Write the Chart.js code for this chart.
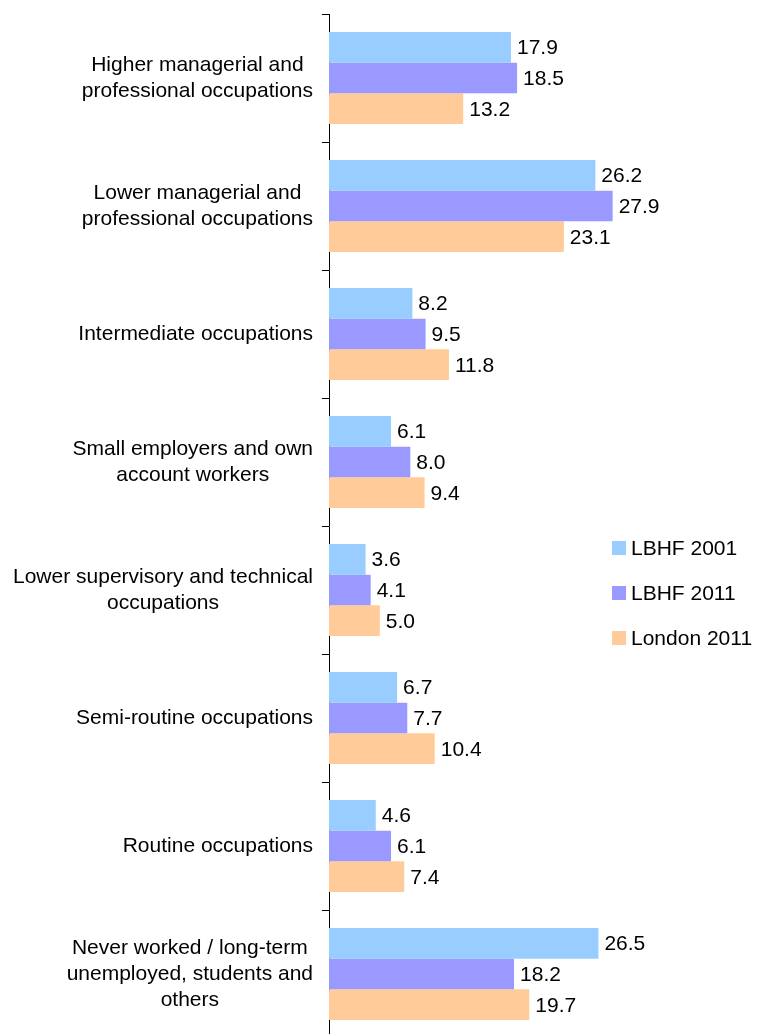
<!DOCTYPE html>
<html>
<head>
<meta charset="utf-8">
<script src="https://cdn.jsdelivr.net/npm/chart.js@4.4.1/dist/chart.umd.min.js"></script>
<style>
  html, body { margin: 0; padding: 0; background: #fff; overflow: hidden; }
  #wrap { position: relative; width: 757px; height: 1034px; overflow: hidden; }
  #legend { position: absolute; left: 612px; top: 534px; font: 21px "Liberation Sans", Arial, sans-serif; color: #000; }
  #legend div { height: 28px; margin-bottom: 17px; display: flex; align-items: center; white-space: nowrap; }
  #legend span.box { display: inline-block; width: 14px; height: 14px; margin-right: 5px; }
</style>
</head>
<body>
<div id="wrap">
  <canvas id="chart" width="757" height="1038"></canvas>
  <div id="legend"></div>
</div>
<script>
const categories = [
  ['Higher managerial and', 'professional occupations'],
  ['Lower managerial and', 'professional occupations'],
  ['Intermediate occupations'],
  ['Small employers and own', 'account workers'],
  ['Lower supervisory and technical', 'occupations'],
  ['Semi-routine occupations'],
  ['Routine occupations'],
  ['Never worked / long-term', 'unemployed, students and', 'others']
];
const seriesNames = ['LBHF 2001', 'LBHF 2011', 'London 2011'];
const lbhf2001 = [17.9, 26.2, 8.2, 6.1, 3.6, 6.7, 4.6, 26.5];
const lbhf2011 = [18.5, 27.9, 9.5, 8.0, 4.1, 7.7, 6.1, 18.2];
const london2011 = [13.2, 23.1, 11.8, 9.4, 5.0, 10.4, 7.4, 19.7];
const colors = ['#99CCFF', '#9999FF', '#FFCC99'];

const FONT = '"Liberation Sans", Arial, sans-serif';

// category labels: lines centred on each other, block right-aligned to the axis
const categoryLabels = {
  id: 'categoryLabels',
  afterDraw(chart) {
    const ctx = chart.ctx;
    const y = chart.scales.y;
    ctx.save();
    ctx.font = '21px ' + FONT;
    ctx.fillStyle = '#000';
    ctx.textAlign = 'center';
    ctx.textBaseline = 'middle';
    const lh = 26;
    categories.forEach((lines, i) => {
      const w = Math.max(...lines.map(l => ctx.measureText(l).width));
      const cx = y.right - 16 - w / 2;
      const cy = y.getPixelForTick(i);
      lines.forEach((l, k) => {
        ctx.fillText(l, cx, cy + (k - (lines.length - 1) / 2) * lh);
      });
    });
    ctx.restore();
  }
};

// value labels at bar ends
const valueLabels = {
  id: 'valueLabels',
  afterDatasetsDraw(chart) {
    const ctx = chart.ctx;
    ctx.save();
    ctx.font = '21px ' + FONT;
    ctx.fillStyle = '#000';
    ctx.textAlign = 'left';
    ctx.textBaseline = 'middle';
    chart.data.datasets.forEach((ds, di) => {
      chart.getDatasetMeta(di).data.forEach((bar, i) => {
        ctx.fillText(ds.data[i].toFixed(1), bar.x + 6, bar.y + 1);
      });
    });
    ctx.restore();
  }
};

new Chart(document.getElementById('chart'), {
  type: 'bar',
  data: {
    labels: categories.map(c => c.join(' ')),
    datasets: [
      { label: seriesNames[0], data: lbhf2001, backgroundColor: colors[0] },
      { label: seriesNames[1], data: lbhf2011, backgroundColor: colors[1] },
      { label: seriesNames[2], data: london2011, backgroundColor: colors[2] }
    ]
  },
  options: {
    indexAxis: 'y',
    responsive: false,
    animation: false,
    devicePixelRatio: 1,
    layout: { padding: { top: 14, right: 123, bottom: 0, left: 0 } },
    datasets: { bar: { barPercentage: 1, categoryPercentage: 0.72 } },
    plugins: { legend: { display: false }, tooltip: { enabled: false } },
    scales: {
      x: { display: false, min: 0, max: 30 },
      y: {
        offset: true,
        border: { display: true, color: '#000', width: 1 },
        grid: { display: true, offset: true, drawOnChartArea: false, tickLength: 7, color: '#000' },
        ticks: { display: false },
        afterFit(scale) { scale.width = 329; }
      }
    }
  },
  plugins: [valueLabels, categoryLabels]
});

const legend = document.getElementById('legend');
seriesNames.forEach((name, i) => {
  const row = document.createElement('div');
  row.innerHTML = '<span class="box" style="background:' + colors[i] + '"></span>' + name;
  legend.appendChild(row);
});
</script>
</body>
</html>
